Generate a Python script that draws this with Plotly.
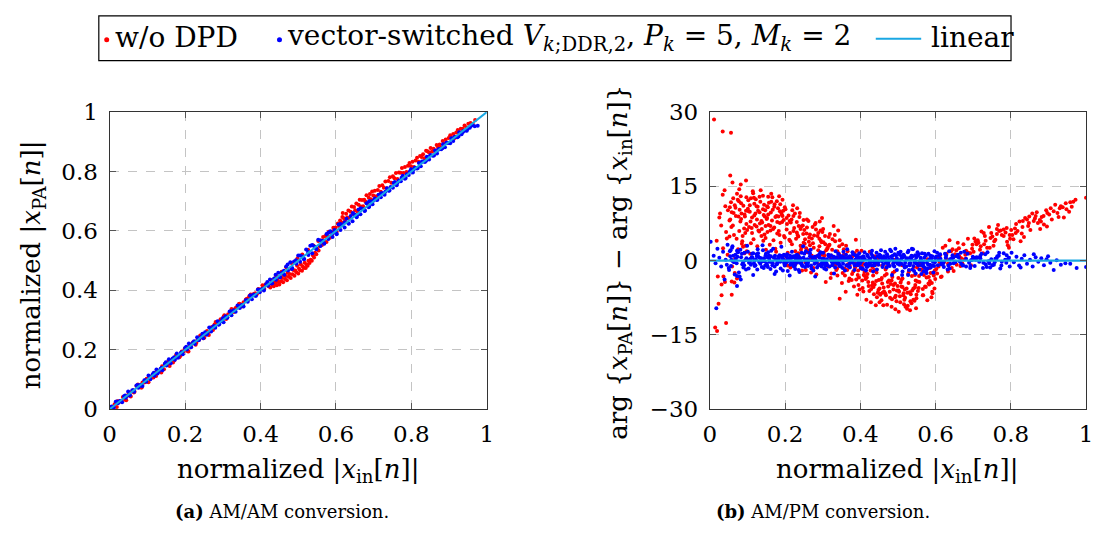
import plotly.graph_objects as go

# ---------------- data ----------------
TICKS_X = [0, 0.2, 0.4, 0.6, 0.8, 1]
TICKTEXT_X = ["0", "0.2", "0.4", "0.6", "0.8", "1"]
TICKS_AMAM_Y = [0, 0.2, 0.4, 0.6, 0.8, 1]
TICKTEXT_AMAM_Y = ["0", "0.2", "0.4", "0.6", "0.8", "1"]
TICKS_AMPM_Y = [-30, -15, 0, 15, 30]

LINEAR_X = [0, 1]
LINEAR_AMAM_Y = [0, 1]
LINEAR_AMPM_Y = [0, 0]

# AM/AM, w/o DPD  (|x_in|, |x_PA|)
AMAM_WO_DPD = [
    (0.007, 0.001), (0.013, 0.017), (0.019, 0.008), (0.024, 0.026), (0.029, 0.026), (0.035, 0.041),
    (0.041, 0.032), (0.046, 0.045), (0.050, 0.055), (0.056, 0.043), (0.062, 0.063), (0.066, 0.059),
    (0.071, 0.078), (0.078, 0.074), (0.083, 0.073), (0.087, 0.090), (0.092, 0.090), (0.098, 0.103),
    (0.103, 0.091), (0.107, 0.107), (0.114, 0.108), (0.119, 0.123), (0.123, 0.112), (0.128, 0.130),
    (0.134, 0.131), (0.139, 0.145), (0.144, 0.135), (0.150, 0.149), (0.155, 0.160), (0.159, 0.146),
    (0.164, 0.165), (0.171, 0.164), (0.176, 0.183), (0.180, 0.176), (0.185, 0.175), (0.191, 0.194),
    (0.196, 0.194), (0.201, 0.206), (0.207, 0.195), (0.212, 0.212), (0.216, 0.210), (0.222, 0.226),
    (0.228, 0.217), (0.233, 0.235), (0.237, 0.234), (0.242, 0.248), (0.248, 0.239), (0.253, 0.252),
    (0.258, 0.263), (0.263, 0.250), (0.269, 0.270), (0.274, 0.267), (0.278, 0.285), (0.283, 0.287),
    (0.289, 0.286), (0.294, 0.303), (0.299, 0.300), (0.304, 0.316), (0.309, 0.304), (0.314, 0.320),
    (0.320, 0.322), (0.325, 0.335), (0.329, 0.327), (0.335, 0.342), (0.340, 0.343), (0.344, 0.355),
    (0.350, 0.346), (0.355, 0.360), (0.361, 0.369), (0.366, 0.366), (0.370, 0.380), (0.375, 0.377),
    (0.381, 0.387), (0.386, 0.390), (0.390, 0.387), (0.395, 0.404), (0.401, 0.402), (0.405, 0.417),
    (0.410, 0.405), (0.415, 0.421), (0.419, 0.421),
    (0.010, 0.000), (0.021, 0.027), (0.032, 0.028), (0.044, 0.030), (0.053, 0.056), (0.064, 0.056),
    (0.075, 0.083), (0.085, 0.073), (0.095, 0.093), (0.106, 0.110), (0.116, 0.107), (0.126, 0.127),
    (0.137, 0.124), (0.147, 0.154), (0.157, 0.152), (0.168, 0.157), (0.178, 0.180), (0.188, 0.181),
    (0.199, 0.204), (0.209, 0.194), (0.219, 0.222), (0.230, 0.224), (0.240, 0.248), (0.251, 0.241),
    (0.261, 0.260), (0.271, 0.277), (0.281, 0.294), (0.292, 0.295), (0.302, 0.311), (0.312, 0.310),
    (0.323, 0.337), (0.333, 0.339), (0.343, 0.354), (0.353, 0.353), (0.364, 0.372), (0.374, 0.386),
    (0.384, 0.388), (0.394, 0.404), (0.404, 0.405), (0.413, 0.420),
    (0.422, 0.414), (0.426, 0.410), (0.429, 0.425), (0.432, 0.420), (0.435, 0.414), (0.437, 0.430),
    (0.440, 0.423), (0.443, 0.417), (0.445, 0.434), (0.448, 0.428), (0.450, 0.420), (0.452, 0.446),
    (0.455, 0.431), (0.457, 0.442), (0.460, 0.427), (0.462, 0.452), (0.465, 0.438), (0.467, 0.448),
    (0.470, 0.434), (0.472, 0.459), (0.475, 0.446), (0.477, 0.455), (0.480, 0.442), (0.482, 0.473),
    (0.485, 0.454), (0.487, 0.469), (0.490, 0.449), (0.492, 0.467), (0.495, 0.461), (0.497, 0.483),
    (0.500, 0.457), (0.502, 0.474), (0.505, 0.468), (0.507, 0.487), (0.510, 0.466), (0.512, 0.480),
    (0.515, 0.475), (0.517, 0.493), (0.520, 0.475), (0.522, 0.487), (0.525, 0.483), (0.527, 0.500),
    (0.530, 0.492), (0.533, 0.503), (0.536, 0.500), (0.539, 0.517), (0.542, 0.511), (0.545, 0.527),
    (0.548, 0.522), (0.551, 0.539), (0.554, 0.534), (0.557, 0.549),
    (0.428, 0.435), (0.441, 0.450), (0.456, 0.463), (0.468, 0.478), (0.483, 0.491), (0.498, 0.508),
    (0.511, 0.521), (0.526, 0.537), (0.540, 0.551), (0.553, 0.566),
    (0.560, 0.568), (0.563, 0.553), (0.566, 0.580), (0.569, 0.565), (0.572, 0.583), (0.575, 0.563),
    (0.578, 0.583), (0.581, 0.597), (0.584, 0.577), (0.587, 0.597), (0.590, 0.588), (0.593, 0.611),
    (0.596, 0.602), (0.599, 0.612), (0.602, 0.597), (0.605, 0.625), (0.608, 0.617), (0.611, 0.635),
    (0.614, 0.629), (0.617, 0.647), (0.618, 0.660),
    (0.621, 0.643), (0.624, 0.633), (0.627, 0.658), (0.630, 0.645), (0.633, 0.669), (0.636, 0.642),
    (0.639, 0.665), (0.642, 0.682), (0.645, 0.657), (0.648, 0.681), (0.651, 0.670), (0.654, 0.692),
    (0.657, 0.665), (0.660, 0.688), (0.663, 0.705), (0.666, 0.682), (0.669, 0.704), (0.672, 0.683),
    (0.675, 0.705), (0.678, 0.699), (0.681, 0.720), (0.684, 0.691), (0.687, 0.712), (0.690, 0.724),
    (0.693, 0.707), (0.696, 0.733), (0.699, 0.719), (0.703, 0.735), (0.707, 0.717), (0.711, 0.738),
    (0.715, 0.751), (0.719, 0.732), (0.723, 0.754), (0.727, 0.745), (0.731, 0.766), (0.735, 0.744),
    (0.739, 0.768), (0.743, 0.781), (0.747, 0.762), (0.751, 0.784), (0.755, 0.777), (0.759, 0.795),
    (0.763, 0.775), (0.767, 0.797), (0.771, 0.796), (0.775, 0.812), (0.779, 0.795), (0.783, 0.815),
    (0.787, 0.798), (0.791, 0.819), (0.795, 0.829), (0.799, 0.818), (0.803, 0.833), (0.807, 0.815),
    (0.811, 0.837), (0.815, 0.846), (0.819, 0.833), (0.823, 0.852), (0.827, 0.849), (0.831, 0.858),
    (0.835, 0.845), (0.839, 0.870), (0.843, 0.868), (0.847, 0.864), (0.851, 0.879), (0.855, 0.867),
    (0.859, 0.877), (0.863, 0.868), (0.867, 0.889), (0.871, 0.881), (0.875, 0.891), (0.879, 0.882),
    (0.883, 0.903), (0.887, 0.895), (0.891, 0.908), (0.895, 0.896), (0.899, 0.913), (0.903, 0.922),
    (0.907, 0.913), (0.911, 0.926), (0.915, 0.913), (0.919, 0.931), (0.923, 0.940), (0.927, 0.931),
    (0.931, 0.944), (0.936, 0.944), (0.941, 0.955), (0.946, 0.948), (0.951, 0.961), (0.957, 0.963),
    (0.963, 0.960), (0.969, 0.973),
]

# AM/AM, vector-switched DPD
AMAM_DPD = [
    (0.005, 0.009), (0.011, 0.005), (0.016, 0.025), (0.022, 0.020), (0.027, 0.028), (0.033, 0.024),
    (0.038, 0.044), (0.043, 0.039), (0.049, 0.060), (0.054, 0.047), (0.060, 0.064), (0.065, 0.059),
    (0.071, 0.080), (0.076, 0.072), (0.081, 0.082), (0.087, 0.078), (0.092, 0.098), (0.097, 0.093),
    (0.103, 0.114), (0.108, 0.101), (0.114, 0.118), (0.119, 0.113), (0.124, 0.134), (0.130, 0.126),
    (0.135, 0.136), (0.140, 0.131), (0.146, 0.152), (0.151, 0.147), (0.157, 0.168), (0.162, 0.155),
    (0.167, 0.171), (0.173, 0.167), (0.178, 0.188), (0.183, 0.179), (0.189, 0.190), (0.194, 0.185),
    (0.200, 0.206), (0.205, 0.201), (0.210, 0.221), (0.216, 0.209), (0.221, 0.225), (0.226, 0.220),
    (0.232, 0.242), (0.237, 0.233), (0.243, 0.244), (0.248, 0.239), (0.253, 0.259), (0.259, 0.255),
    (0.264, 0.275), (0.269, 0.262), (0.275, 0.279), (0.280, 0.274), (0.286, 0.296), (0.291, 0.287),
    (0.296, 0.297), (0.302, 0.293), (0.307, 0.313), (0.312, 0.308), (0.318, 0.329), (0.323, 0.316),
    (0.329, 0.333), (0.334, 0.328), (0.339, 0.349), (0.345, 0.341), (0.350, 0.351), (0.355, 0.346),
    (0.361, 0.367), (0.366, 0.362), (0.372, 0.383), (0.377, 0.370), (0.382, 0.386), (0.388, 0.382),
    (0.393, 0.403), (0.398, 0.394), (0.404, 0.405), (0.409, 0.400), (0.415, 0.421), (0.420, 0.416),
    (0.425, 0.437), (0.431, 0.424), (0.436, 0.440), (0.441, 0.436), (0.447, 0.459), (0.452, 0.445),
    (0.457, 0.459), (0.463, 0.453), (0.468, 0.480), (0.473, 0.467), (0.479, 0.495), (0.484, 0.475),
    (0.489, 0.497), (0.495, 0.490), (0.500, 0.517), (0.505, 0.496), (0.511, 0.514), (0.516, 0.506),
    (0.521, 0.538), (0.527, 0.519), (0.532, 0.550), (0.537, 0.525), (0.543, 0.548), (0.548, 0.539),
    (0.553, 0.570), (0.559, 0.549), (0.564, 0.567), (0.569, 0.559), (0.575, 0.590), (0.580, 0.573),
    (0.585, 0.599), (0.591, 0.580), (0.596, 0.603), (0.601, 0.592), (0.607, 0.622), (0.612, 0.603),
    (0.617, 0.620), (0.623, 0.612), (0.628, 0.641), (0.633, 0.626), (0.639, 0.650), (0.644, 0.633),
    (0.649, 0.655), (0.655, 0.646), (0.660, 0.672), (0.665, 0.656), (0.671, 0.674), (0.676, 0.667),
    (0.681, 0.693), (0.687, 0.680), (0.688, 0.682), (0.692, 0.699), (0.697, 0.690), (0.703, 0.709),
    (0.708, 0.704), (0.713, 0.722), (0.719, 0.713), (0.724, 0.727), (0.729, 0.722), (0.735, 0.744),
    (0.740, 0.735), (0.745, 0.748), (0.751, 0.745), (0.756, 0.765), (0.761, 0.754), (0.767, 0.770),
    (0.772, 0.767), (0.777, 0.786), (0.783, 0.776), (0.788, 0.791), (0.793, 0.788), (0.799, 0.808),
    (0.804, 0.797), (0.809, 0.813), (0.815, 0.810), (0.820, 0.829), (0.825, 0.818), (0.831, 0.834),
    (0.836, 0.832), (0.841, 0.850), (0.847, 0.840), (0.852, 0.855), (0.857, 0.853), (0.863, 0.871),
    (0.868, 0.861), (0.873, 0.876), (0.879, 0.875), (0.884, 0.892), (0.889, 0.882), (0.895, 0.897),
    (0.900, 0.896), (0.906, 0.912), (0.911, 0.903), (0.916, 0.917), (0.922, 0.915), (0.927, 0.932),
    (0.933, 0.925), (0.938, 0.936), (0.944, 0.938), (0.949, 0.943), (0.955, 0.947), (0.962, 0.956),
    (0.968, 0.952), (0.976, 0.954),
    (0.008, 0.004), (0.019, 0.026), (0.030, 0.028), (0.041, 0.046), (0.052, 0.046), (0.063, 0.064),
    (0.074, 0.082), (0.084, 0.079), (0.095, 0.098), (0.106, 0.105), (0.117, 0.123), (0.127, 0.120),
    (0.138, 0.140), (0.149, 0.158), (0.160, 0.157), (0.171, 0.175), (0.181, 0.173), (0.192, 0.192),
    (0.203, 0.210), (0.214, 0.210), (0.224, 0.229), (0.235, 0.233), (0.246, 0.254), (0.257, 0.251),
    (0.268, 0.271), (0.278, 0.279), (0.289, 0.284), (0.300, 0.306), (0.311, 0.308), (0.321, 0.330),
    (0.332, 0.331), (0.343, 0.347), (0.354, 0.347), (0.365, 0.367), (0.375, 0.383), (0.386, 0.382),
    (0.397, 0.402), (0.408, 0.406), (0.418, 0.428), (0.429, 0.423), (0.440, 0.453), (0.451, 0.443),
    (0.462, 0.466), (0.472, 0.487), (0.483, 0.472), (0.494, 0.501), (0.505, 0.517), (0.515, 0.505),
    (0.526, 0.529), (0.537, 0.553), (0.548, 0.539), (0.559, 0.568), (0.569, 0.557), (0.580, 0.594),
    (0.591, 0.593), (0.602, 0.589), (0.612, 0.623), (0.623, 0.629), (0.634, 0.624), (0.645, 0.660),
    (0.656, 0.652), (0.666, 0.676), (0.677, 0.669), (0.688, 0.700), (0.699, 0.702), (0.710, 0.705),
    (0.720, 0.727), (0.731, 0.732), (0.742, 0.736), (0.753, 0.761), (0.763, 0.761), (0.774, 0.779),
    (0.785, 0.778), (0.796, 0.800), (0.806, 0.806), (0.817, 0.812), (0.828, 0.834), (0.839, 0.836),
    (0.850, 0.855), (0.860, 0.854), (0.871, 0.873), (0.882, 0.878), (0.893, 0.897), (0.903, 0.895),
    (0.914, 0.915), (0.925, 0.918), (0.936, 0.932), (0.947, 0.937), (0.957, 0.952),
]

# AM/PM, w/o DPD  (|x_in|, phase difference in degrees)
AMPM_WO_DPD = [
    (0.011, 28.5), (0.034, 26.1), (0.056, 25.8), (0.014, -13.5), (0.019, -14.2), (0.043, -12.6),
    (0.021, -3.2), (0.031, -7.0), (0.023, -8.7), (0.039, 14.2), (0.041, 11.0), (0.025, 8.7),
    (0.030, 7.1), (0.043, 5.8), (0.045, 4.5), (0.036, -3.2), (0.031, -4.8), (0.040, -4.3),
    (0.058, -4.2), (0.065, -4.4), (0.058, -6.9), (0.054, 17.2), (0.060, 15.8), (0.082, 15.4),
    (0.096, 16.2), (0.078, 14.4), (0.034, 13.3), (0.027, 9.5), (0.048, 10.2), (0.052, 8.1),
    (0.035, 2.5), (0.047, 1.2), (0.018, 4.0), (0.066, -2.5), (0.072, -3.6),
    (0.074, 12.3), (0.058, 9.8), (0.091, 6.5), (0.066, 11.2), (0.083, 8.4), (0.052, 4.9),
    (0.097, 12.8), (0.061, 7.1), (0.079, 10.3), (0.088, 2.8), (0.069, 9.0), (0.094, 5.6),
    (0.056, 11.8), (0.081, 7.9), (0.072, 13.5), (0.099, 6.2), (0.063, 9.6), (0.086, 3.9),
    (0.077, 12.0), (0.054, 8.3), (0.092, 1.5), (0.067, 0.4), (0.059, -1.2), (0.098, 1.9),
    (0.085, 3.4), (0.071, 4.4), (0.096, 10.1), (0.064, 5.2), (0.089, 11.1), (0.057, 6.8),
    (0.082, 13.0), (0.075, 2.3), (0.093, 8.9), (0.068, 10.7), (0.087, 5.0), (0.062, 12.6),
    (0.078, 6.0), (0.095, 3.0), (0.053, 10.8), (0.084, 9.5),
    (0.127, 10.9), (0.104, 6.8), (0.141, 13.1), (0.112, 8.7), (0.148, 4.6), (0.118, 11.5),
    (0.133, 7.5), (0.106, 9.9), (0.145, 5.3), (0.122, 12.4), (0.137, 8.0), (0.101, 10.5),
    (0.129, 6.1), (0.115, 13.6), (0.143, 9.2), (0.109, 3.5), (0.124, 11.0), (0.139, 7.7),
    (0.103, 10.0), (0.131, 5.9), (0.117, 12.7), (0.146, 8.9), (0.111, 6.6), (0.135, 14.2),
    (0.121, 9.5), (0.149, 2.2), (0.107, 1.4), (0.126, 2.9), (0.142, 4.0), (0.114, 14.0),
    (0.132, 9.8), (0.119, 7.2), (0.144, 11.3), (0.102, 12.2), (0.138, 6.4), (0.125, 8.3),
    (0.108, 7.9), (0.147, 10.2), (0.116, 4.3), (0.134, 11.9),
    (0.172, 11.4), (0.156, 7.2), (0.189, 9.8), (0.163, 11.9), (0.197, 5.0), (0.151, 8.4),
    (0.181, 10.6), (0.168, 6.4), (0.193, 12.3), (0.159, 3.2), (0.177, 9.0), (0.186, 7.6),
    (0.154, 10.8), (0.199, 4.7), (0.165, 8.1), (0.183, 6.0), (0.157, 11.7), (0.191, 9.3),
    (0.174, 2.4), (0.161, 7.0), (0.195, 10.1), (0.179, 5.5), (0.152, 8.6), (0.187, 11.4),
    (0.169, 4.1), (0.198, 1.1), (0.158, 0.6), (0.176, 1.8), (0.184, 13.0), (0.166, 12.8),
    (0.192, 7.8), (0.153, 5.8), (0.178, 12.0), (0.162, 9.7), (0.196, 8.2), (0.171, 6.7),
    (0.188, 3.6), (0.155, 12.9), (0.182, 8.9), (0.167, 10.3),
    (0.226, 9.5), (0.204, 6.3), (0.241, 3.0), (0.212, 8.0), (0.233, 5.2), (0.219, 10.2),
    (0.247, 7.1), (0.207, 1.6), (0.229, 4.4), (0.238, 8.8), (0.201, 10.4), (0.222, 6.0),
    (0.244, 2.7), (0.215, 7.7), (0.235, 4.9), (0.209, 9.1), (0.249, 3.6), (0.224, 6.6),
    (0.203, 0.8), (0.231, 5.7), (0.217, 8.3), (0.242, 2.2), (0.211, 4.2), (0.236, 7.0),
    (0.228, -0.6), (0.214, -1.4), (0.245, -2.0), (0.206, -1.0), (0.221, 11.2), (0.239, 9.6),
    (0.248, 5.4), (0.218, 3.3), (0.232, 10.6), (0.205, 7.4), (0.227, 1.9), (0.243, 6.9),
    (0.277, 5.1), (0.256, 2.5), (0.292, 7.9), (0.263, 3.8), (0.284, 0.9), (0.251, 6.2),
    (0.271, 4.5), (0.298, 8.6), (0.259, 1.7), (0.288, 5.6), (0.266, 3.1), (0.279, 7.3),
    (0.254, -0.3), (0.295, 4.0), (0.273, 6.8), (0.261, 2.0), (0.286, 5.0), (0.268, 0.4),
    (0.252, 3.4), (0.281, 7.6), (0.299, 1.2), (0.264, 4.7), (0.275, -1.5), (0.258, 8.3),
    (0.291, 2.9), (0.269, -2.4), (0.283, -2.8), (0.255, -1.9), (0.294, 6.1), (0.262, 8.0),
    (0.276, 2.6), (0.289, -0.7), (0.257, 5.5), (0.297, 3.7),
    (0.326, 4.3), (0.305, 1.0), (0.341, 6.1), (0.313, 2.6), (0.334, -0.8), (0.302, 3.7),
    (0.319, 5.4), (0.347, 0.2), (0.309, 2.1), (0.329, 7.0), (0.338, -1.6), (0.316, 3.0),
    (0.343, 1.4), (0.306, 5.0), (0.323, -2.6), (0.349, 0.7), (0.312, 2.4), (0.331, -0.9),
    (0.345, 4.1), (0.321, -3.5), (0.303, 1.6), (0.336, -1.9), (0.345, -7.7), (0.318, 3.2),
    (0.327, -0.4), (0.339, -3.0), (0.308, -4.3), (0.332, 5.2), (0.315, -1.2), (0.344, 2.9),
    (0.301, 6.4), (0.324, 0.9),
    (0.372, -1.1), (0.356, 2.3), (0.389, -3.8), (0.363, 0.5), (0.381, -2.2), (0.352, 3.3),
    (0.395, -4.9), (0.367, -0.7), (0.384, 1.5), (0.359, -3.0), (0.398, -5.8), (0.376, 0.0),
    (0.353, -2.5), (0.391, 2.0), (0.369, -4.1), (0.386, -1.4), (0.361, -6.3), (0.379, 0.9),
    (0.396, -3.4), (0.365, -1.9), (0.383, -5.2), (0.357, 1.3), (0.393, -2.9), (0.374, -0.3),
    (0.351, -4.5), (0.388, 4.2), (0.362, 3.0), (0.378, -2.7), (0.399, -1.0), (0.354, 0.2),
    (0.371, -3.6), (0.392, -6.9),
    (0.427, -2.0), (0.406, -5.5), (0.441, -0.8), (0.414, -3.7), (0.436, -6.8), (0.402, -1.6),
    (0.421, -4.3), (0.447, 0.4), (0.409, -2.9), (0.431, -5.0), (0.444, -7.4), (0.417, -3.4),
    (0.404, -1.2), (0.438, -4.8), (0.424, -6.1), (0.411, -2.3), (0.449, -3.9), (0.429, -5.7),
    (0.407, -0.5), (0.433, -4.4), (0.441, -9.0), (0.419, -2.7), (0.446, -6.5), (0.412, -3.1),
    (0.435, -5.3), (0.425, 1.8), (0.403, 2.0), (0.439, 0.9), (0.416, -7.9), (0.428, -8.4),
    (0.443, -2.4), (0.408, -6.2), (0.432, -1.3), (0.448, -5.9),
    (0.476, -4.0), (0.453, -6.9), (0.491, -2.2), (0.462, -5.4), (0.484, -7.8), (0.457, -3.5),
    (0.497, -6.0), (0.469, -1.3), (0.481, -4.7), (0.451, -8.4), (0.488, -5.8), (0.465, -3.0),
    (0.494, -7.1), (0.473, -4.3), (0.459, -6.5), (0.486, -2.5), (0.471, -8.9), (0.499, -5.1),
    (0.455, -3.8), (0.479, -7.5), (0.463, -6.2), (0.492, -4.6), (0.483, -9.3), (0.467, -1.8),
    (0.452, -6.7), (0.489, 0.2), (0.474, -0.5), (0.461, -9.0), (0.496, -8.2), (0.478, -6.3),
    (0.458, -1.0), (0.485, -3.3), (0.468, -7.0), (0.493, -9.8),
    (0.523, -5.6), (0.502, -10.3), (0.541, -7.9), (0.509, -3.9), (0.531, -6.4), (0.516, -8.8),
    (0.546, -4.9), (0.505, -7.2), (0.527, -2.7), (0.538, -6.0), (0.520, -9.3), (0.512, -5.3),
    (0.544, -8.1), (0.501, -3.5), (0.534, -6.8), (0.524, -9.7), (0.507, -4.4), (0.549, -7.6),
    (0.518, -5.8), (0.529, -2.2), (0.536, -8.6), (0.503, -6.3), (0.547, -4.0), (0.514, -7.0),
    (0.526, -9.1), (0.542, -1.3), (0.511, -0.9), (0.532, -10.0), (0.519, -7.5), (0.548, -9.6),
    (0.506, -8.4), (0.537, -3.1), (0.515, -6.6), (0.545, -5.4),
    (0.572, -5.2), (0.556, -3.1), (0.589, -7.4), (0.563, -1.9), (0.581, -4.6), (0.553, -6.1),
    (0.594, -2.6), (0.567, -7.0), (0.585, -4.1), (0.559, -0.8), (0.597, -5.6), (0.576, -3.4),
    (0.551, -1.4), (0.591, -6.3), (0.569, -2.9), (0.583, -4.8), (0.557, -0.4), (0.599, -3.7),
    (0.574, -5.3), (0.564, -1.8), (0.587, -2.5), (0.552, -4.2), (0.579, 0.3), (0.595, -3.0),
    (0.561, -1.0), (0.566, -7.0), (0.592, -6.6), (0.578, -8.0), (0.555, -5.5), (0.584, -1.5),
    (0.648, -2.1), (0.606, 0.8), (0.671, -0.5), (0.614, -3.3), (0.689, 1.5), (0.616, -3.2),
    (0.633, -0.6), (0.655, 2.1), (0.602, -1.7), (0.677, 0.3), (0.633, -2.2), (0.641, 1.9),
    (0.694, -0.9), (0.619, 2.6), (0.663, 0.9), (0.608, -1.2), (0.684, 1.7), (0.626, 3.0),
    (0.668, 0.5), (0.645, 2.3), (0.698, 3.2), (0.612, 1.1), (0.659, 3.6), (0.681, 2.0),
    (0.637, 4.1), (0.692, 1.5), (0.623, -0.2), (0.674, 3.3), (0.652, 1.3), (0.686, 4.4),
    (0.604, -2.6), (0.629, 1.4), (0.666, -1.1), (0.643, -1.5),
    (0.744, 2.6), (0.706, 3.8), (0.781, 5.0), (0.718, 2.2), (0.759, 4.2), (0.728, 5.6),
    (0.792, 3.1), (0.703, 4.5), (0.769, 6.0), (0.737, 2.6), (0.751, 4.9), (0.714, 3.6),
    (0.786, 5.7), (0.733, 4.0), (0.763, 6.4), (0.709, 3.3), (0.776, 5.2), (0.742, 6.8),
    (0.798, 4.4), (0.773, 6.1), (0.722, 5.9), (0.756, 3.9), (0.789, 6.6), (0.731, 5.0),
    (0.790, 3.8), (0.766, 7.2), (0.748, 5.6), (0.726, 1.5), (0.701, 1.8), (0.795, 2.6),
    (0.846, 7.0), (0.804, 5.2), (0.872, 7.6), (0.818, 6.0), (0.835, 4.8), (0.861, 8.0),
    (0.811, 6.5), (0.888, 7.3), (0.829, 5.5), (0.852, 6.2), (0.838, 8.6), (0.843, 8.3),
    (0.896, 6.9), (0.823, 7.9), (0.866, 9.0), (0.801, 6.2), (0.877, 8.2), (0.857, 9.5),
    (0.814, 7.4), (0.882, 8.8), (0.878, 6.4), (0.869, 9.8), (0.887, 9.0), (0.832, 8.0),
    (0.894, 10.2), (0.849, 8.9), (0.807, 4.3), (0.826, 3.9),
    (0.924, 9.6), (0.906, 10.6), (0.941, 8.7), (0.914, 10.0), (0.933, 11.0), (0.902, 9.3),
    (0.948, 10.4), (0.930, 10.6), (0.918, 11.3), (0.955, 9.9), (0.938, 10.8), (0.946, 11.6),
    (0.962, 10.9), (0.958, 11.8), (0.966, 11.9), (0.972, 12.3), (1.000, 12.7), (0.909, 8.3),
    (0.927, 8.8),
    (0.083, 11.6), (0.097, 7.4), (0.109, 12.6), (0.118, 9.1), (0.124, 6.9), (0.132, 12.9),
    (0.141, 10.4), (0.148, 7.0), (0.155, 9.3), (0.163, 13.5), (0.171, 10.9), (0.179, 7.8),
    (0.186, 10.0), (0.193, 9.0), (0.106, 11.2), (0.128, 10.1), (0.152, 11.0), (0.174, 8.8),
    (0.112, 5.6), (0.137, 5.0), (0.161, 6.1), (0.185, 5.2), (0.199, 10.8), (0.092, 9.3),
    (0.076, 8.9),
    (0.204, 8.6), (0.213, 5.6), (0.222, 9.0), (0.231, 7.8), (0.241, 6.4), (0.249, 8.2),
    (0.258, 6.7), (0.266, 5.3), (0.274, 3.5), (0.282, 6.3), (0.291, 4.4), (0.299, 5.8),
    (0.307, 3.3), (0.316, 4.8), (0.325, 2.2), (0.333, 3.9), (0.342, 0.8), (0.214, 3.9),
    (0.236, 1.5), (0.253, 4.3), (0.271, 1.0), (0.288, 2.1), (0.304, -0.2), (0.322, 0.3),
    (0.339, 1.9),
    (0.358, -1.6), (0.366, 1.9), (0.377, -3.9), (0.386, -0.6), (0.394, -2.0), (0.405, -4.0),
    (0.413, -2.1), (0.422, -5.1), (0.434, -3.0), (0.442, -4.1), (0.451, -5.6), (0.458, -4.6),
    (0.466, -6.6), (0.474, -5.2), (0.483, -4.0), (0.492, -7.4), (0.501, -6.0), (0.509, -5.2),
    (0.517, -7.9), (0.525, -6.5), (0.533, -8.2), (0.541, -5.6), (0.549, -6.9), (0.557, -4.3),
    (0.566, -5.7), (0.573, -2.2), (0.582, -3.3), (0.590, -4.5), (0.598, -2.0), (0.470, -2.7),
    (0.512, -3.6), (0.528, -4.5), (0.545, -2.9), (0.488, -4.9), (0.437, -1.9), (0.456, -8.0),
    (0.611, -0.3), (0.628, 0.4), (0.646, 1.0), (0.662, 2.5), (0.679, 1.2), (0.697, 2.4),
    (0.712, 4.1), (0.729, 3.3), (0.746, 4.6), (0.763, 5.4), (0.781, 6.3), (0.797, 5.2),
    (0.813, 5.6), (0.831, 6.8), (0.848, 7.6), (0.864, 8.5), (0.880, 7.9), (0.897, 9.6),
    (0.656, -0.8), (0.720, 2.9), (0.754, 3.0),
]

# AM/PM, vector-switched DPD
AMPM_DPD = [
    (0.002, 3.8), (0.017, -9.6), (0.047, 3.2), (0.060, 2.9), (0.082, -3.8), (0.072, -3.1),
    (0.072, -5.1), (0.039, -3.8), (0.010, 1.0), (0.015, -0.5), (0.025, 0.6), (0.030, -1.2),
    (0.035, 1.8), (0.042, 0.2), (0.050, -1.5), (0.055, 2.1), (0.045, -0.8), (0.020, 2.4),
    (0.073, 0.8), (0.056, -1.1), (0.092, 1.6), (0.064, -0.3), (0.081, 2.2), (0.051, -1.9),
    (0.097, 0.5), (0.068, 1.2), (0.086, -0.7), (0.059, 2.6), (0.077, -2.4), (0.094, 0.1),
    (0.062, 1.0), (0.089, -1.4), (0.053, 1.9), (0.071, -0.5), (0.083, 0.7), (0.066, -2.8),
    (0.099, 3.0), (0.079, -3.2), (0.057, 0.2), (0.091, -0.9), (0.069, 0.4), (0.085, 1.4),
    (0.061, -0.1), (0.096, -1.8), (0.075, 1.7), (0.054, 0.9), (0.088, -0.4), (0.072, 2.0),
    (0.147, -1.0), (0.112, 1.4), (0.181, 0.2), (0.126, -1.8), (0.163, 2.0), (0.104, -0.4),
    (0.191, 0.9), (0.138, -1.3), (0.155, 1.7), (0.118, 0.0), (0.176, -2.2), (0.132, 0.6),
    (0.197, 1.2), (0.109, -0.8), (0.168, 2.4), (0.143, -1.5), (0.122, 0.3), (0.185, 1.1),
    (0.151, -0.6), (0.101, 1.8), (0.172, -1.2), (0.136, 0.5), (0.194, -2.0), (0.115, 1.5),
    (0.159, -0.2), (0.129, 0.8), (0.188, -1.6), (0.141, 2.1), (0.107, 0.1), (0.166, -0.9),
    (0.124, 1.3), (0.179, -0.4), (0.153, 0.7), (0.115, -2.9), (0.140, 3.1), (0.172, -2.7),
    (0.190, 2.8), (0.133, -0.3), (0.157, 1.0), (0.199, -0.7), (0.119, -1.1), (0.183, 0.4),
    (0.145, -0.1), (0.103, -1.6), (0.170, 0.6), (0.127, 2.3), (0.161, -1.7), (0.195, 0.3),
    (0.111, 0.7), (0.149, 1.4),
    (0.246, -1.1), (0.213, 1.0), (0.281, 0.2), (0.227, -1.7), (0.264, 1.6), (0.204, -0.3),
    (0.292, 0.6), (0.238, -2.3), (0.255, 1.9), (0.219, -0.7), (0.276, 0.4), (0.232, 1.2),
    (0.297, -1.2), (0.209, 0.0), (0.268, 2.2), (0.243, -0.5), (0.222, 0.9), (0.285, -1.4),
    (0.251, 1.4), (0.201, -0.1), (0.272, 0.7), (0.236, -1.9), (0.294, 1.7), (0.215, -0.6),
    (0.259, 0.3), (0.229, 1.1), (0.288, -1.0), (0.241, 0.5), (0.207, -2.1), (0.266, 1.5),
    (0.224, -0.2), (0.279, 0.8), (0.253, -1.3), (0.212, -3.0), (0.248, 2.9), (0.280, -3.2),
    (0.234, 0.1), (0.258, -0.8), (0.299, 0.4), (0.218, 1.8), (0.283, -0.3), (0.244, 1.6),
    (0.203, 0.9), (0.270, -1.6), (0.226, -1.0), (0.261, -0.4), (0.291, 1.3), (0.237, 0.2),
    (0.275, -2.0), (0.217, 0.6),
    (0.347, 0.6), (0.312, -0.9), (0.381, 1.3), (0.326, -0.3), (0.364, 0.2), (0.304, -1.6),
    (0.392, 1.0), (0.338, -0.5), (0.355, 1.8), (0.318, -1.2), (0.376, 0.4), (0.332, -0.1),
    (0.397, 1.5), (0.309, -1.8), (0.368, 0.7), (0.343, -0.6), (0.322, 1.1), (0.385, -1.0),
    (0.351, 0.1), (0.301, 1.6), (0.372, -1.4), (0.336, 0.5), (0.394, -0.4), (0.315, 1.2),
    (0.359, -2.0), (0.329, 0.8), (0.388, -0.7), (0.341, 1.4), (0.307, -1.1), (0.366, 0.3),
    (0.324, -0.2), (0.379, 1.7), (0.353, -1.5), (0.330, -2.6), (0.365, 2.3), (0.345, -0.9),
    (0.311, 0.3), (0.398, 0.0), (0.334, 1.9), (0.371, -0.6), (0.319, 0.9), (0.384, -1.9),
    (0.357, 0.6), (0.302, -0.3), (0.390, 0.8), (0.348, -1.2), (0.327, -0.6), (0.362, 1.2),
    (0.340, 0.2), (0.375, -0.1),
    (0.446, 0.9), (0.413, -0.8), (0.482, 1.9), (0.427, -0.2), (0.464, 0.5), (0.404, -1.6),
    (0.491, 1.3), (0.438, -0.6), (0.455, 2.1), (0.419, -1.2), (0.476, 0.2), (0.432, 1.0),
    (0.497, -1.9), (0.409, 0.6), (0.468, -0.4), (0.443, 1.6), (0.422, -1.0), (0.485, 0.3),
    (0.451, 1.2), (0.401, -1.5), (0.472, 0.8), (0.436, -0.3), (0.493, 2.4), (0.415, -2.0),
    (0.459, 0.4), (0.429, 1.4), (0.488, -0.9), (0.441, 0.1), (0.407, -1.7), (0.466, 1.8),
    (0.424, -0.5), (0.479, 2.2), (0.453, 0.7), (0.417, -1.3), (0.495, 1.1), (0.434, -2.2),
    (0.462, 0.2), (0.411, 1.7), (0.484, -2.9), (0.448, -0.8), (0.426, 0.4), (0.470, -1.4),
    (0.403, 0.7), (0.457, -0.1), (0.499, -0.6), (0.431, 2.0), (0.474, -0.7), (0.420, 0.9),
    (0.490, -1.2), (0.444, -1.8),
    (0.546, 1.1), (0.512, -2.2), (0.583, 0.2), (0.527, -2.9), (0.564, 1.5), (0.504, -0.8),
    (0.591, 0.9), (0.538, -1.8), (0.555, 1.3), (0.519, -0.4), (0.576, -2.5), (0.532, 0.6),
    (0.597, 1.9), (0.540, 2.3), (0.568, -1.2), (0.508, 0.3), (0.543, -2.1), (0.586, 1.0),
    (0.551, -0.6), (0.501, 1.6), (0.572, -1.5), (0.535, 0.4), (0.594, -2.4), (0.515, 1.2),
    (0.559, -0.2), (0.529, -1.9), (0.588, 0.8), (0.541, -1.1), (0.507, 1.8), (0.566, -0.7),
    (0.524, 0.5), (0.579, -1.6), (0.553, 1.1), (0.511, -2.9), (0.537, 2.4), (0.562, -2.7),
    (0.598, -0.3), (0.518, -1.4), (0.581, 1.4), (0.548, -0.5), (0.503, 0.0), (0.570, 0.6),
    (0.526, 1.7), (0.592, -1.0), (0.557, -1.8), (0.531, -0.9), (0.575, -2.0), (0.514, 0.7),
    (0.547, -2.6), (0.585, -0.8),
    (0.648, -0.5), (0.612, 1.3), (0.681, -1.2), (0.627, 0.6), (0.664, -0.1), (0.604, 1.6),
    (0.692, -1.5), (0.638, 0.3), (0.655, 0.9), (0.619, -0.8), (0.676, 1.8), (0.632, -1.8),
    (0.697, 0.2), (0.609, 1.0), (0.668, -0.6), (0.643, 0.5), (0.622, -1.3), (0.685, 1.4),
    (0.651, -0.3), (0.601, 0.8), (0.672, -1.0), (0.636, 1.9), (0.694, 0.1), (0.615, -0.7),
    (0.659, 1.2), (0.745, -1.4), (0.712, 0.6), (0.781, 1.5), (0.727, -0.4), (0.764, 0.9),
    (0.704, -1.1), (0.792, 0.3), (0.738, 1.7), (0.755, -0.8), (0.719, 0.5), (0.776, -0.2),
    (0.732, 1.3), (0.797, -1.2), (0.709, 0.7), (0.768, 1.0), (0.743, -0.5), (0.722, 1.4),
    (0.785, 0.2), (0.751, -0.9), (0.701, 0.6), (0.772, -1.6), (0.736, -1.3), (0.759, 0.4),
    (0.716, -0.2), (0.789, 1.1),
    (0.802, 1.6), (0.808, -0.3), (0.815, 0.8), (0.822, -1.0), (0.829, 0.4), (0.836, 1.1),
    (0.843, -0.6), (0.851, 0.2), (0.858, -1.2), (0.866, 0.7), (0.873, -0.2), (0.881, 0.5),
    (0.888, -0.9), (0.895, 0.3), (0.905, -0.4), (0.914, -1.9), (0.922, 0.1), (0.933, -0.8),
    (0.945, -0.5), (0.958, -0.6), (0.975, -1.5), (1.000, -1.3), (0.826, -1.4), (0.861, 1.3),
    (0.899, 0.9),
    (0.108, 0.4), (0.134, -0.6), (0.162, 0.9), (0.187, -0.2), (0.121, -0.9), (0.148, 1.1),
    (0.176, 0.3), (0.199, -1.0), (0.113, 0.6), (0.139, -0.1), (0.167, -0.5), (0.193, 1.0),
    (0.128, 1.5), (0.154, -1.3), (0.182, 0.8), (0.106, -0.3),
    (0.211, 0.5), (0.239, -0.4), (0.266, 0.9), (0.293, -0.8), (0.223, -1.2), (0.252, 0.2),
    (0.278, -0.6), (0.205, 1.3), (0.233, 0.7), (0.261, -1.1), (0.287, 1.0), (0.216, -0.1),
    (0.245, -0.9), (0.272, 0.1), (0.298, -0.4), (0.228, 0.4),
    (0.308, -0.4), (0.337, 0.7), (0.363, -0.9), (0.391, 0.4), (0.316, 1.0), (0.344, -1.1),
    (0.372, 0.9), (0.399, -0.6), (0.323, 0.2), (0.352, 0.9), (0.378, -0.3), (0.305, -0.7),
    (0.333, -1.4), (0.361, 0.5), (0.387, 1.1), (0.349, 0.0),
    (0.412, 0.3), (0.437, -1.0), (0.463, 0.9), (0.489, -0.3), (0.418, 1.2), (0.445, -0.4),
    (0.471, 1.3), (0.497, 0.5), (0.425, -0.7), (0.452, 0.6), (0.478, -1.1), (0.406, 0.1),
    (0.433, 0.8), (0.459, -1.3), (0.486, 1.0), (0.494, -0.2),
    (0.509, -0.6), (0.536, 1.0), (0.563, -0.9), (0.589, 0.5), (0.517, 0.9), (0.544, -0.3),
    (0.571, 1.4), (0.596, -1.1), (0.522, -1.2), (0.549, 0.7), (0.577, -0.4), (0.505, 1.2),
    (0.533, -0.5), (0.561, 0.3), (0.587, -1.4), (0.552, 1.7), (0.528, 2.0), (0.568, -2.2),
    (0.608, 0.2), (0.634, -1.0), (0.661, 0.7), (0.689, -0.4), (0.617, -0.3), (0.645, 1.1),
    (0.673, -0.9), (0.699, 0.8), (0.625, 1.4), (0.653, -0.2), (0.681, 0.4), (0.637, -1.6),
    (0.667, 1.6), (0.693, -1.1),
    (0.707, 0.2), (0.733, -0.7), (0.762, 0.5), (0.788, -0.4), (0.719, 1.0), (0.748, 0.3),
    (0.775, -1.0), (0.741, -0.1), (0.769, 1.6), (0.795, 0.6), (0.726, -1.5), (0.757, -0.3),
    (0.102, 0.2), (0.117, -0.5), (0.125, 0.9), (0.131, -0.2), (0.144, 0.5), (0.152, -0.9),
    (0.158, 0.4), (0.165, -0.3), (0.173, 1.0), (0.178, -0.7), (0.184, -0.1), (0.192, 0.6),
    (0.197, -0.4),
    (0.206, 0.3), (0.214, -0.8), (0.221, 0.7), (0.230, -0.4), (0.236, 0.9), (0.242, -0.2),
    (0.249, 0.6), (0.256, -0.6), (0.263, 0.1), (0.269, -1.0), (0.277, 0.5), (0.284, -0.2),
    (0.290, 0.8), (0.296, -0.7),
    (0.303, 0.4), (0.310, -0.5), (0.317, 0.8), (0.325, -0.9), (0.331, 0.3), (0.339, -0.3),
    (0.346, 1.0), (0.354, -0.6), (0.360, 0.1), (0.367, -1.1), (0.374, 0.6), (0.380, -0.4),
    (0.386, 0.2), (0.393, -0.9), (0.396, 0.7),
    (0.402, -0.2), (0.408, 0.9), (0.416, -0.6), (0.423, 0.2), (0.430, -0.9), (0.439, 0.5),
    (0.447, -0.3), (0.454, 1.0), (0.461, -0.7), (0.467, 0.3), (0.475, -0.2), (0.481, 0.8),
    (0.487, -0.6), (0.496, 0.0),
    (0.502, -0.4), (0.510, 0.8), (0.516, -1.0), (0.523, 0.3), (0.530, -0.6), (0.539, 0.9),
    (0.545, 0.1), (0.554, -0.9), (0.560, 0.6), (0.567, -0.4), (0.574, 1.0), (0.580, -0.8),
    (0.586, 0.3), (0.593, -0.2), (0.599, 0.5),
    (0.606, -0.9), (0.613, 0.4), (0.621, -0.4), (0.628, 1.0), (0.639, -0.6), (0.647, 0.6),
]

# ---------------- styling ----------------
W, H = 1097, 548
FONT = "DejaVu Serif"
RED = "#ff0000"
BLUE = "#0000ff"
CYAN = "#1aa7e3"
MS = 4


def px_x(p):
    return p / W


def px_y(p):
    return 1 - p / H


LEFT_DOM = [px_x(104), px_x(486)]
RIGHT_DOM = [px_x(712), px_x(1093)]
Y_DOM = [px_y(416), px_y(104)]


def xs(pts):
    return [p[0] for p in pts]


def ys(pts):
    return [p[1] for p in pts]


fig = go.Figure()

# left panel
fig.add_trace(go.Scatter(x=xs(AMAM_WO_DPD), y=ys(AMAM_WO_DPD), mode="markers",
                         marker=dict(color=RED, size=MS), xaxis="x", yaxis="y",
                         name="w/o DPD", showlegend=False))
fig.add_trace(go.Scatter(x=xs(AMAM_DPD), y=ys(AMAM_DPD), mode="markers",
                         marker=dict(color=BLUE, size=MS), xaxis="x", yaxis="y",
                         name="vector-switched", showlegend=False))
fig.add_trace(go.Scatter(x=LINEAR_X, y=LINEAR_AMAM_Y, mode="lines",
                         line=dict(color=CYAN, width=2), xaxis="x", yaxis="y",
                         name="linear", showlegend=False))
# right panel
fig.add_trace(go.Scatter(x=xs(AMPM_WO_DPD), y=ys(AMPM_WO_DPD), mode="markers",
                         marker=dict(color=RED, size=MS), xaxis="x2", yaxis="y2",
                         name="w/o DPD", showlegend=False))
fig.add_trace(go.Scatter(x=xs(AMPM_DPD), y=ys(AMPM_DPD), mode="markers",
                         marker=dict(color=BLUE, size=MS), xaxis="x2", yaxis="y2",
                         name="vector-switched", showlegend=False))
fig.add_trace(go.Scatter(x=LINEAR_X, y=LINEAR_AMPM_Y, mode="lines",
                         line=dict(color=CYAN, width=2.4), xaxis="x2", yaxis="y2",
                         name="linear", showlegend=False))

axis_common = dict(
    showline=True, linecolor="#333333", linewidth=1.3, mirror="ticks",
    ticks="inside", ticklen=6, tickcolor="#555555", tickwidth=1,
    showgrid=True, gridcolor="#c4c4c4", griddash="dash", gridwidth=1,
    zeroline=False, tickfont=dict(family=FONT, size=23, color="black"),
)

fig.update_layout(
    width=W, height=H,
    margin=dict(l=0, r=0, t=0, b=0),
    paper_bgcolor="white", plot_bgcolor="white",
    showlegend=False,
    xaxis=dict(domain=LEFT_DOM, range=[0, 1], tickvals=TICKS_X, ticktext=TICKTEXT_X,
               anchor="y", ticklabelstandoff=4, **axis_common),
    yaxis=dict(domain=Y_DOM, range=[0, 1], tickvals=TICKS_AMAM_Y, ticktext=TICKTEXT_AMAM_Y,
               anchor="x", ticklabelstandoff=6, **axis_common),
    xaxis2=dict(domain=RIGHT_DOM, range=[0, 1], tickvals=TICKS_X, ticktext=TICKTEXT_X,
                anchor="y2", ticklabelstandoff=4, **axis_common),
    yaxis2=dict(domain=Y_DOM, range=[-30, 30], tickvals=TICKS_AMPM_Y,
                anchor="x2", ticklabelstandoff=6, **axis_common),
)

TF = dict(family=FONT, size=26, color="black")
LF = dict(family=FONT, size=28, color="black")
CF = dict(family=FONT, size=18, color="black")
ann = [
    dict(x=px_x(295), y=px_y(480), text="normalized |<i>x</i><sub>in</sub>[<i>n</i>]|", font=TF),
    dict(x=px_x(902), y=px_y(480), text="normalized |<i>x</i><sub>in</sub>[<i>n</i>]|", font=TF),
    dict(x=px_x(26), y=px_y(264), text="normalized |<i>x</i><sub>PA</sub>[<i>n</i>]|",
         textangle=-90, font=TF),
    dict(x=px_x(620), y=px_y(262),
         text="arg {<i>x</i><sub>PA</sub>[<i>n</i>]} − arg {<i>x</i><sub>in</sub>[<i>n</i>]}",
         textangle=-90, font=TF),
    dict(x=px_x(279), y=px_y(523), text="<b>(a)</b> AM/AM conversion.", font=CF),
    dict(x=px_x(827), y=px_y(523), text="<b>(b)</b> AM/PM conversion.", font=CF),
    # legend texts
    dict(x=px_x(107), y=px_y(26), xanchor="left", text="w/o DPD", font=LF),
    dict(x=px_x(282), y=px_y(26), xanchor="left",
         text="vector-switched <i>V</i><sub><i>k</i>;DDR,2</sub>, <i>P<sub>k</sub></i> = 5, <i>M<sub>k</sub></i> = 2",
         font=LF),
    dict(x=px_x(934), y=px_y(26), xanchor="left", text="linear", font=LF),
]
for a in ann:
    a.setdefault("xanchor", "center")
    a.update(xref="paper", yref="paper", yanchor="middle", showarrow=False)
fig.update_layout(annotations=ann)

shapes = [
    dict(type="rect", xref="paper", yref="paper", x0=px_x(93), x1=px_x(1017),
         y0=px_y(50), y1=px_y(3), line=dict(color="black", width=1.2), fillcolor="rgba(0,0,0,0)"),
    dict(type="circle", xref="paper", yref="paper", xsizemode="pixel", ysizemode="pixel",
         xanchor=px_x(101), yanchor=px_y(28), x0=-2.5, x1=2.5, y0=-2.5, y1=2.5,
         fillcolor=RED, line=dict(width=0)),
    dict(type="circle", xref="paper", yref="paper", xsizemode="pixel", ysizemode="pixel",
         xanchor=px_x(276), yanchor=px_y(28), x0=-2.5, x1=2.5, y0=-2.5, y1=2.5,
         fillcolor=BLUE, line=dict(width=0)),
    dict(type="line", xref="paper", yref="paper", x0=px_x(880), x1=px_x(926),
         y0=px_y(27), y1=px_y(27), line=dict(color=CYAN, width=2)),
]
fig.update_layout(shapes=shapes)

fig.write_html("out.html", config={"displayModeBar": False},
               post_script="document.body.style.margin='0px';")
